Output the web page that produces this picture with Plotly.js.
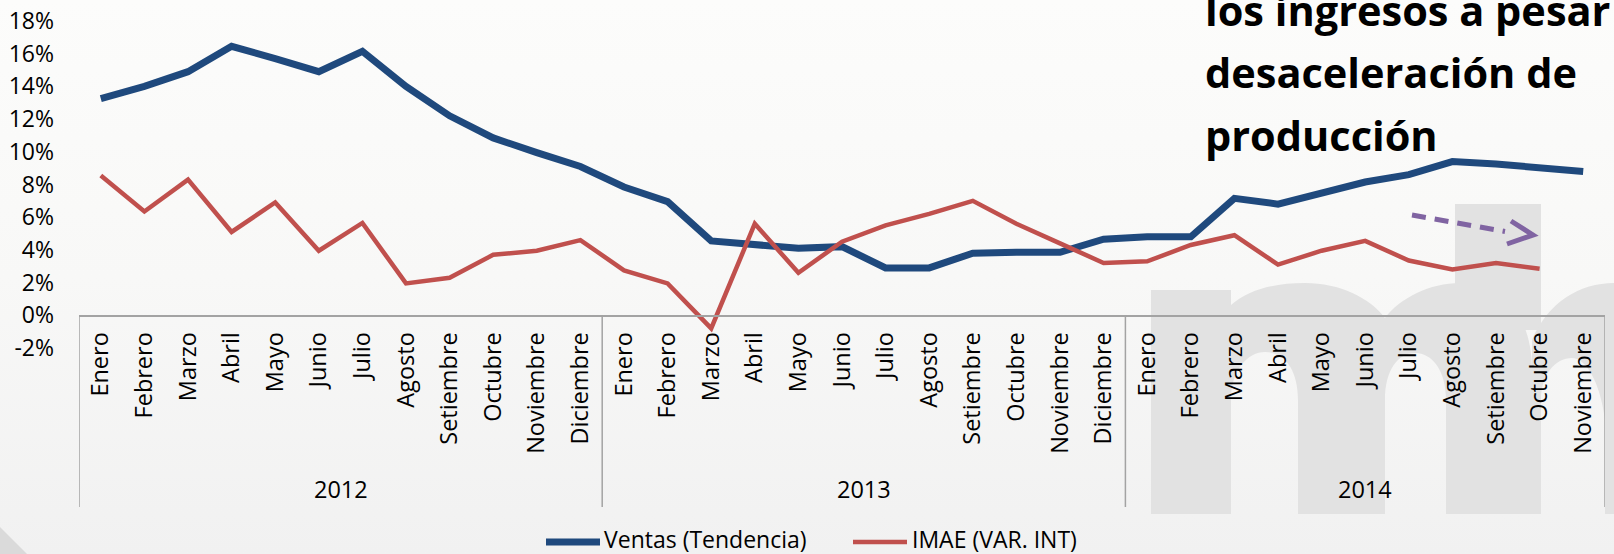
<!DOCTYPE html>
<html><head><meta charset="utf-8">
<script src="https://cdn.plot.ly/plotly-3.0.1.min.js"></script>
<style>
html,body{margin:0;padding:0;}
body{width:1614px;height:554px;background:linear-gradient(to bottom,#fcfcfb 0%,#f8f8f7 50%,#f1f1f1 100%);overflow:hidden;}
#chart{width:1614px;height:554px;}
</style></head><body><div id="chart"></div>
<script>
// ---- data ----
const years = ["2012", "2013", "2014"];
const monthNames = ["Enero","Febrero","Marzo","Abril","Mayo","Junio","Julio","Agosto","Setiembre","Octubre","Noviembre","Diciembre"];
const monthsPerYear = [12, 12, 11];
const ventas = [13.25, 14.0, 14.9, 16.45, 15.7, 14.9, 16.15, 14.0, 12.2, 10.85, 9.95, 9.1,
                7.85, 6.95, 4.55, 4.35, 4.1, 4.2, 2.9, 2.9, 3.8, 3.85, 3.85, 4.65,
                4.8, 4.8, 7.15, 6.8, 7.45, 8.15, 8.6, 9.4, 9.25, 9.0, 8.8];
const imae = [8.55, 6.35, 8.3, 5.1, 6.9, 3.95, 5.65, 1.95, 2.3, 3.7, 3.95, 4.6,
              2.75, 1.95, -0.8, 5.6, 2.6, 4.5, 5.5, 6.2, 7.0, 5.6, 4.4, 3.2,
              3.3, 4.3, 4.9, 3.1, 3.95, 4.55, 3.35, 2.8, 3.2, 2.85];
const seriesNames = ["Ventas (Tendencia)", "IMAE (VAR. INT)"];
const seriesColors = ["#1F497D", "#C0504D"];
const yTickVals = [-2, 0, 2, 4, 6, 8, 10, 12, 14, 16, 18];
const yTickText = ["-2%", "0%", "2%", "4%", "6%", "8%", "10%", "12%", "14%", "16%", "18%"];
const titleLines = ["los ingresos a pesar", "desaceleración de", "producción"];

// ---- categories ----
const xKey = [], xMonth = [];
const yearCenters = [], dividers = [-0.5];
let idx = 0;
years.forEach((y, i) => {
  const start = idx;
  for (let m = 0; m < monthsPerYear[i]; m++) { xKey.push(y + " " + monthNames[m]); xMonth.push(monthNames[m]); idx++; }
  yearCenters.push((start + idx - 1) / 2);
  dividers.push(idx - 0.5);
});

// ---- geometry helpers (decoration only) ----
const W = 1614, H = 554, L = 79, R = 9, T = 21, B = 206;
const pw = W - L - R, ph = H - T - B;
const px = x => (x - L) / pw;
const py = y => (H - B - y) / ph;
const P = s => s.replace(/(-?\d+\.?\d*),(-?\d+\.?\d*)/g, (m, a, b) => px(+a).toFixed(5) + ',' + py(+b).toFixed(5));

const axisGray = '#a3a3a3';
const wm = '#e2e2e2';
const shapes = [
  {type:'path', xref:'paper', yref:'paper', layer:'below', fillcolor:wm, line:{width:0},
   path:P('M1151,514 L1151,290 L1231,290 L1231,305 C1250,289 1275,283 1305,283 C1340,283 1370,298 1385,318 C1400,298 1430,283 1460,283 C1505,283 1532,318 1532,370 L1532,514 L1446,514 L1446,400 C1446,370 1432,353 1415,353 C1398,353 1385,370 1385,400 L1385,514 L1298,514 L1298,400 C1298,370 1285,352 1265,352 C1248,352 1231,370 1231,400 L1231,514 Z')},
  {type:'path', xref:'paper', yref:'paper', layer:'below', fillcolor:wm, line:{width:0},
   path:P('M1455,204 L1541,204 L1541,330 L1455,330 Z')},
  {type:'path', xref:'paper', yref:'paper', layer:'below', fillcolor:wm, line:{width:0},
   path:P('M1532,514 L1532,340 C1548,302 1580,283 1614,283 L1614,514 L1605,514 L1605,420 C1600,380 1585,358 1572,358 C1555,358 1541,375 1541,400 L1541,514 Z')},
  {type:'path', xref:'paper', yref:'paper', layer:'below', fillcolor:'#dadada', line:{width:0},
   path:P('M0,527 L27,554 L0,554 Z')},
  {type:'line', xref:'paper', yref:'paper', x0:px(1412), y0:py(215), x1:px(1505), y1:py(231.5),
   line:{color:'#8064A2', width:5, dash:'14px,9px'}},
  {type:'path', xref:'paper', yref:'paper', line:{color:'#8064A2', width:5},
   path:P('M1511,221 L1533,235 L1507,244')},
  // custom legend keys
  {type:'line', xref:'paper', yref:'paper', x0:px(546), y0:py(542), x1:px(600), y1:py(542),
   line:{color:seriesColors[0], width:7}},
  {type:'line', xref:'paper', yref:'paper', x0:px(853), y0:py(542), x1:px(907), y1:py(542),
   line:{color:seriesColors[1], width:4.5}}
];
// year dividers on the category axis
dividers.forEach(d => shapes.push({type:'line', xref:'x', yref:'paper', x0:d, x1:d, y0:py(315), y1:py(507),
  line:{color:axisGray, width:1.5}}));

const titleCenters = [10, 72, 135];
const annotations = titleLines.map((t, i) => ({
  text: t, xref:'paper', yref:'paper', x:px(1203), y:py(titleCenters[i]), xanchor:'left', yanchor:'middle',
  showarrow:false, font:{family:'Open Sans', size:41.5, weight:700, color:'#000'}
}));
[[602, 0], [910, 1]].forEach(([x, i]) => annotations.push({
  text: seriesNames[i], xref:'paper', yref:'paper', x:px(x), y:py(539), xanchor:'left', yanchor:'middle',
  showarrow:false, font:{family:'Open Sans', size:23, color:'#000'}
}));
years.forEach((y, i) => annotations.push({
  text: y, xref:'x', yref:'paper', x:yearCenters[i], y:py(489), xanchor:'center', yanchor:'middle',
  showarrow:false, font:{family:'Open Sans', size:23.5, color:'#000'}
}));

const traces = [
  {x:xKey, y:ventas, type:'scatter', mode:'lines', name:seriesNames[0],
   line:{color:seriesColors[0], width:7}},
  {x:xKey.slice(0, imae.length), y:imae, type:'scatter', mode:'lines', name:seriesNames[1],
   line:{color:seriesColors[1], width:4.5}}
];

const layout = {
  width:W, height:H,
  margin:{l:L, r:R, t:T, b:B, autoexpand:false},
  paper_bgcolor:'rgba(0,0,0,0)', plot_bgcolor:'rgba(0,0,0,0)',
  font:{family:'Open Sans', size:22, color:'#000'},
  showlegend:false,
  xaxis:{type:'category', categoryorder:'array', categoryarray:xKey, tickvals:xKey, ticktext:xMonth,
         anchor:'free', position:0.1, showline:true, linecolor:axisGray, linewidth:1.5,
         tickangle:-90, ticks:'', ticklabelstandoff:6,
         showgrid:false, zeroline:false, range:[-0.5, xKey.length - 0.5], tickfont:{size:23.5, color:'#000'}},
  yaxis:{range:[-2, 18], tickvals:yTickVals, ticktext:yTickText, showgrid:false, zeroline:false, showline:false,
         ticks:'', ticklabelstandoff:24, tickfont:{size:23, color:'#000'}},
  shapes: shapes,
  annotations: annotations
};

Plotly.newPlot('chart', traces, layout, {displayModeBar:false, staticPlot:true});
</script></body></html>
